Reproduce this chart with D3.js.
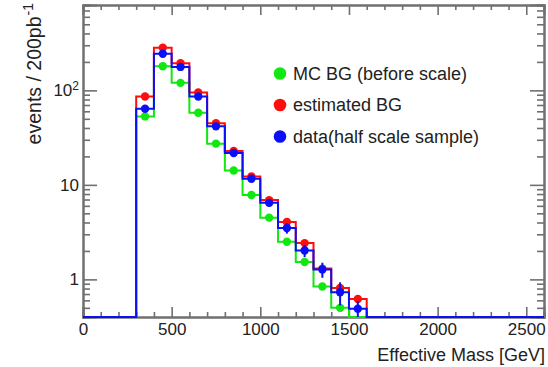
<!DOCTYPE html>
<html>
<head>
<meta charset="utf-8">
<script src="https://cdn.jsdelivr.net/npm/d3@7"></script>
<style>
  body { margin: 0; background: #fff; }
  text { font-family: "Liberation Sans", Arial, sans-serif; fill: #222; }
</style>
</head>
<body>
<div class="chart"></div>
<script>
// Bins: 100 GeV wide, first filled bin starts at 300 GeV.
const binWidth = 100;
const firstBin = 300;
const massMax = 2600;

// Values per bin (300-400, 400-500, ... 1500-1600)
const mcBG = [53, 180, 120, 58, 27.3, 14.2, 7.8, 4.5, 2.5, 1.53, 0.84, 0.5, 0];
const estBG = [86, 283, 194, 95, 45, 22.8, 12.3, 6.9, 4.05, 2.42, 1.3, 0.81, 0.62];
const dataHalf = [64, 244, 177, 86, 41.6, 21.7, 11.6, 6.45, 3.5, 2.02, 1.27, 0.73, 0.49];
const dataErr = [1.8, 3.5, 3.0, 2.1, 1.4, 1.0, 0.75, 0.55, 0.45, 0.3, 0.23, 0.2, 0.1];

const xMajor = [0, 500, 1000, 1500, 2000, 2500];
const yMajor = [1, 10, 100];
const yMajorLabels = [["1", ""], ["10", ""], ["10", "2"]];

const legendLabels = ["MC BG (before scale)", "estimated BG", "data(half scale sample)"];
const colors = ["#10e810", "#ff0d0d", "#0a10f5"];

// Margin convention.
const margin = { top: 5, right: 4, bottom: 50, left: 83 };
const W = 548, H = 367;
const width = W - margin.left - margin.right;
const height = H - margin.top - margin.bottom;

const x = d3.scaleLinear([0, massMax], [0, width]);
const y = d3.scaleLog([0.4, 800], [height, 0]);

const svg = d3.select('.chart')
    .append('svg')
    .attr('width', W)
    .attr('height', H);

const g = svg.append('g')
    .attr('transform', `translate(${margin.left}, ${margin.top})`);

// minor tick values
const xMinor = d3.range(0, massMax + 1, 100).filter(v => v % 500 !== 0);
const yMinor = [];
[0.1, 1, 10, 100].forEach(d => {
    for (let k = 2; k <= 9; k++) {
        const v = d * k;
        if (v >= 0.4 && v <= 800) yMinor.push(+v.toFixed(2));
    }
});

const axisColor = '#707070';
function styleAxis(sel) {
    sel.select('.domain').attr('stroke', axisColor).attr('stroke-width', 2);
    sel.selectAll('.tick line').attr('stroke', axisColor).attr('stroke-width', 1.6);
    sel.selectAll('.tick text').attr('font-size', 17).attr('fill', '#222')
        .attr('font-family', '"Liberation Sans", Arial, sans-serif');
}

// Bottom axis
g.append('g').attr('transform', `translate(0, ${height})`)
    .call(d3.axisBottom(x).tickValues(xMinor).tickSize(-5).tickFormat(''))
    .call(styleAxis);
g.append('g').attr('transform', `translate(0, ${height})`)
    .call(d3.axisBottom(x).tickValues(xMajor).tickSize(-10).tickPadding(6).tickFormat(d3.format('d')))
    .call(styleAxis);

// Top axis
g.append('g')
    .call(d3.axisTop(x).tickValues(xMinor).tickSize(-5).tickFormat(''))
    .call(styleAxis);
g.append('g')
    .call(d3.axisTop(x).tickValues(xMajor).tickSize(-10).tickFormat(''))
    .call(styleAxis);

// Left axis
g.append('g')
    .call(d3.axisLeft(y).tickValues(yMinor).tickSize(-7).tickFormat(''))
    .call(styleAxis);
const yAx = g.append('g')
    .call(d3.axisLeft(y).tickValues(yMajor).tickSize(-14).tickPadding(4).tickFormat(''))
    .call(styleAxis);
yAx.selectAll('.tick text').each(function(d, i) {
    const t = d3.select(this);
    t.text(null);
    t.append('tspan').text(yMajorLabels[i][0]);
    if (yMajorLabels[i][1]) {
        t.append('tspan').attr('font-size', 12).attr('dy', '-0.55em').text(yMajorLabels[i][1]);
    }
});

// Right axis
g.append('g').attr('transform', `translate(${width}, 0)`)
    .call(d3.axisRight(y).tickValues(yMinor).tickSize(-7).tickFormat(''))
    .call(styleAxis);
g.append('g').attr('transform', `translate(${width}, 0)`)
    .call(d3.axisRight(y).tickValues(yMajor).tickSize(-14).tickFormat(''))
    .call(styleAxis);

// Histograms
function fullHist(vals) {
    const nBins = massMax / binWidth;
    const pts = [];
    for (let i = 0; i <= nBins; i++) {
        const j = Math.min(i, nBins - 1) - firstBin / binWidth;
        const v = (j >= 0 && j < vals.length) ? vals[j] : 0;
        pts.push([i * binWidth, v]);
    }
    return pts;
}

const step = d3.line()
    .x(d => x(d[0]))
    .y(d => d[1] > 0 ? y(Math.max(d[1], 0.4)) : height)
    .curve(d3.curveStepAfter);

const series = [mcBG, estBG, dataHalf];

series.forEach((vals, s) => {
    g.append('path')
        .datum(fullHist(vals))
        .attr('d', step)
        .attr('fill', 'none')
        .attr('stroke', colors[s])
        .attr('stroke-width', 2);
});

series.forEach((vals, s) => {
    const pts = vals.map((v, i) => ({ c: firstBin + binWidth * (i + 0.5), v: v, e: s === 2 ? dataErr[i] : 0 }))
        .filter(d => d.v > 0);
    const grp = g.append('g');
    grp.selectAll('line.err')
        .data(pts.filter(d => d.e > 0))
        .enter()
        .append('line')
        .attr('x1', d => x(d.c))
        .attr('x2', d => x(d.c))
        .attr('y1', d => y(d.v + d.e))
        .attr('y2', d => y(Math.max(d.v - d.e, 0.4)))
        .attr('stroke', colors[s])
        .attr('stroke-width', 2);
    grp.selectAll('circle')
        .data(pts)
        .enter()
        .append('circle')
        .attr('cx', d => x(d.c))
        .attr('cy', d => y(d.v))
        .attr('r', 4.2)
        .attr('fill', colors[s]);
});

// Legend
const legend = svg.append('g').attr('transform', 'translate(280, 73.5)');
legendLabels.forEach((lab, i) => {
    legend.append('circle')
        .attr('cx', 0)
        .attr('cy', i * 31.5)
        .attr('r', 6.3)
        .attr('fill', colors[i]);
    legend.append('text')
        .attr('x', 13)
        .attr('y', i * 31.5 + 6)
        .attr('font-size', 18)
        .text(lab);
});

// Axis titles
svg.append('text')
    .attr('x', 545)
    .attr('y', 361)
    .attr('text-anchor', 'end')
    .attr('font-size', 18)
    .text('Effective Mass [GeV]');

const yTitle = svg.append('text')
    .attr('transform', 'translate(41, 3) rotate(-90)')
    .attr('text-anchor', 'end')
    .attr('font-size', 19.5);
yTitle.append('tspan').text('events / 200pb');
yTitle.append('tspan').attr('font-size', 14).attr('dy', '-0.6em').attr('dx', 1).text('-1');
</script>
</body>
</html>
